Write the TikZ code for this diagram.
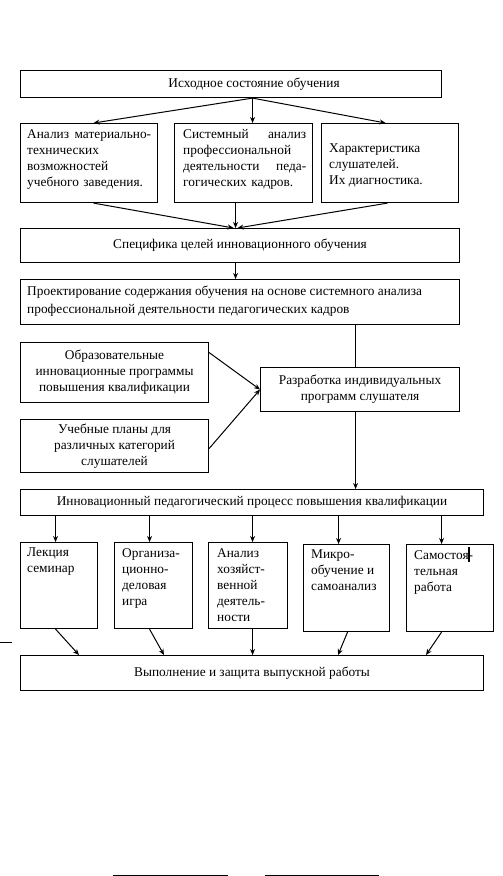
\documentclass[tikz,border=0pt]{standalone}
\usepackage{fontspec}
\setmainfont{Liberation Serif}
\usetikzlibrary{arrows.meta,calc}
\begin{document}
\begin{tikzpicture}[x=1pt,y=-1pt,
  box/.style={draw, line width=1.1pt, inner sep=0pt, anchor=north west, align=center, font=\fontsize{13.35}{16}\selectfont},
  txt/.style={inner sep=0pt, anchor=north west, align=left, font=\fontsize{13.35}{16}\selectfont},
  arr/.style={line width=1pt, -{Stealth[length=6pt,width=5pt]}},
  ln/.style={line width=1pt}]
\useasboundingbox (0,0) rectangle (503,876);
% top
\node[box, minimum width=421pt, minimum height=27pt] (b1) at (20,70) {};
\node[inner sep=0pt, font=\fontsize{13.35}{16}\selectfont] (b1t) at ([xshift=23pt]b1.center) {Исходное состояние обучения};
\node[box, minimum width=137pt, minimum height=79pt] (la) at (20,123) {};
\node[box, minimum width=138pt, minimum height=79pt] (mb) at (174,123) {};
\node[box, minimum width=137pt, minimum height=79pt] (rb) at (321,123) {};
\node[txt, text width=124pt] (lat) at (27,129) {Анализ\hfill материально-\\технических\\возможностей\\учебного заведения.};
\node[txt, text width=123pt] (mbt) at (183,129) {Системный\hfill анализ\\профессиональной\\деятельности\hfill педа-\\гогических кадров.};
\node[txt] (rbt) at (329,144) {Характеристика\\слушателей.\\Их диагностика.};
\coordinate (b1s) at ([xshift=21.5pt]b1.south);
\draw[arr] (b1s) -- ([xshift=4.5pt]la.north);
\draw[arr] (b1s) -- ([xshift=9pt]mb.north);
\draw[arr] (b1s) -- ([xshift=-4.5pt]rb.north);
% spec
\node[box, minimum width=439pt, minimum height=34pt] (spec) at (20,228) {\raisebox{2pt}{Специфика целей инновационного обучения}};
\draw[arr] ([xshift=4.5pt]la.south) -- ([xshift=-6.5pt]spec.north);
\draw[arr] ([xshift=-8pt]mb.south) -- ([xshift=-4.5pt]spec.north);
\draw[arr] ([xshift=-2.5pt]rb.south) -- ([xshift=-2.5pt]spec.north);
% proj
\node[box, minimum width=439pt, minimum height=45pt] (proj) at (20,279) {};
\node[txt, font=\fontsize{13.35}{18}\selectfont] (projt) at (27,286) {Проектирование содержания обучения на основе системного анализа\\профессиональной деятельности педагогических кадров};
\draw[arr] ([xshift=-4.5pt]spec.south) -- ([xshift=-4.5pt]proj.north);
% middle
\node[box, minimum width=199pt, minimum height=44pt] (razr) at (260,367) {Разработка индивидуальных\\программ слушателя};
\node[box, minimum width=188pt, minimum height=60pt] (ob) at (20,342) {Образовательные\\инновационные программы\\повышения квалификации};
\node[box, minimum width=188pt, minimum height=53pt] (uch) at (20,419) {Учебные планы для\\различных категорий\\слушателей};
\draw[ln] ([xshift=-4.5pt]razr.north |- proj.south) -- ([xshift=-4.5pt]razr.north);
\draw[arr] ([yshift=20pt]ob.east) -- (razr.west);
\draw[arr] ([yshift=-2.5pt]uch.east) -- (razr.west);
% innov
\node[box, minimum width=463pt, minimum height=26pt] (innov) at (20,489) {Инновационный педагогический процесс повышения квалификации};
\draw[arr] ([xshift=-4.5pt]razr.south) -- ([xshift=-4.5pt]razr.south |- innov.north);
% bottom row
\node[box, minimum width=77pt, minimum height=86pt] (s1) at (20,542) {};
\node[box, minimum width=78pt, minimum height=86pt] (s2) at (114,542) {};
\node[box, minimum width=79pt, minimum height=86pt] (s3) at (208,542) {};
\node[box, minimum width=86pt, minimum height=87pt] (s4) at (303,544) {};
\node[box, minimum width=87pt, minimum height=87pt] (s5) at (406,544) {};
\node[txt] (s1t) at (27,548) {Лекция\\семинар};
\node[txt] (s2t) at (122,548) {Организа-\\ционно-\\деловая\\игра};
\node[txt] (s3t) at (217,548) {Анализ\\хозяйст-\\венной\\деятель-\\ности};
\node[txt] (s4t) at (311,550) {Микро-\\обучение и\\самоанализ};
\node[txt] (s5t) at (414,550) {Самостоя-\\тельная\\работа};
\draw[arr] ([xshift=-3.5pt]s1.north |- innov.south) -- ([xshift=-3.5pt]s1.north);
\draw[arr] ([xshift=-4pt]s2.north |- innov.south) -- ([xshift=-4pt]s2.north);
\draw[arr] ([xshift=4.5pt]s3.north |- innov.south) -- ([xshift=4.5pt]s3.north);
\draw[arr] ([xshift=-8pt]s4.north |- innov.south) -- ([xshift=-8pt]s4.north);
\draw[arr] ([xshift=-8.5pt]s5.north |- innov.south) -- ([xshift=-8.5pt]s5.north);
% final
\node[box, minimum width=463pt, minimum height=35pt] (fin) at (20,655) {\raisebox{2pt}{Выполнение и защита выпускной работы}};
\draw[arr] ([xshift=-3.5pt]s1.south) -- (fin.north -| 79,0);
\draw[arr] ([xshift=-4pt]s2.south) -- (fin.north -| 164,0);
\draw[arr] ([xshift=4.5pt]s3.south) -- ([xshift=4.5pt]s3.south |- fin.north);
\draw[arr] ([xshift=1pt]s4.south) -- (fin.north -| 338,0);
\draw[arr] ([xshift=-8.5pt]s5.south) -- (fin.north -| 426,0);
% artifacts
\coordinate (st1) at (0,642); \coordinate (st2) at (12,642);
\draw[line width=0.6pt] (st1) -- (st2);
\coordinate (cu1) at (469,547); \coordinate (cu2) at (469,562);
\draw[line width=1.6pt] (cu1) -- (cu2);
\coordinate (bl1) at (113,875); \coordinate (bl2) at (228,875);
\coordinate (bl3) at (265,875); \coordinate (bl4) at (379,875);
\draw[line width=1pt] (bl1) -- (bl2);
\draw[line width=1pt] (bl3) -- (bl4);
\end{tikzpicture}
\end{document}
